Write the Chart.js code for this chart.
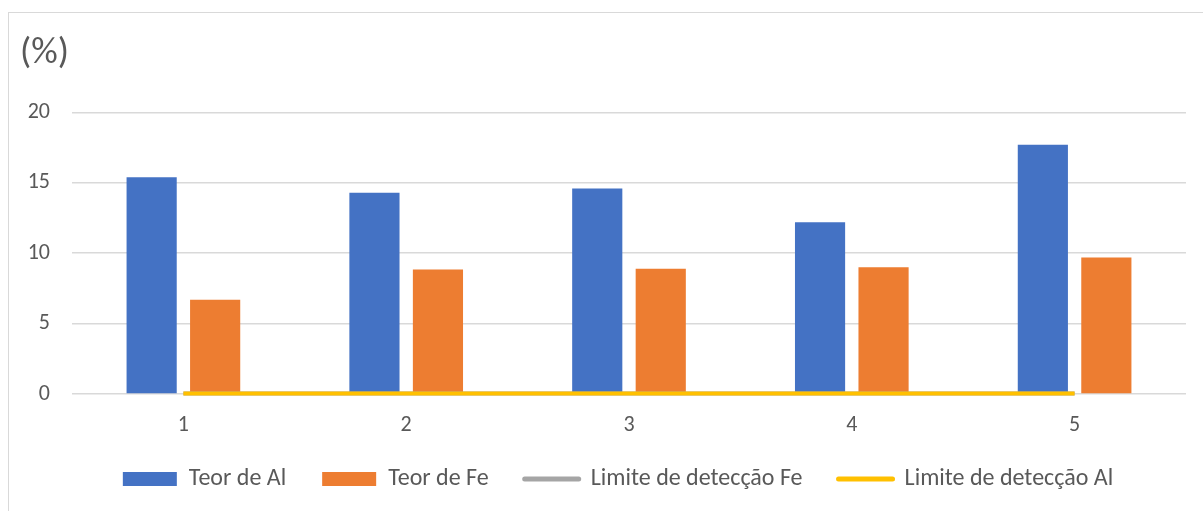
<!DOCTYPE html>
<html>
<head>
<meta charset="utf-8">
<script src="https://cdn.jsdelivr.net/npm/chart.js@4"></script>
<style>
  html, body { margin: 0; padding: 0; background: #fff; }
  #frame { position: absolute; left: 8px; top: 12px; width: 1300px; height: 600px; border: 1px solid #d9d9d9; }
  #wrap { position: absolute; left: 0; top: 0; width: 1203px; height: 511px; }
</style>
</head>
<body>
<div id="frame"></div>
<div id="wrap"><canvas id="myChart"></canvas></div>
<script>
var labels = ['1', '2', '3', '4', '5'];
var teorAl = [15.4, 14.3, 14.6, 12.2, 17.7];
var teorFe = [6.7, 8.85, 8.9, 9.0, 9.7];
var limiteFe = [0.03, 0.03, 0.03, 0.03, 0.03];
var limiteAl = [0.03, 0.03, 0.03, 0.03, 0.03];
var yTicks = [0, 5, 10, 15, 20];

var textColor = '#595959';
var fontFamily = "Carlito, Calibri, 'Open Sans', sans-serif";

var ctx = document.getElementById('myChart').getContext('2d');

// nudge the legend sideways so it sits where the original one does
var legendShift = {
    id: 'legendShift',
    afterLayout: function (chart) {
        chart.legend.left += 15;
        chart.legend.right += 15;
    }
};

let myChart = new Chart(ctx, {
    type: 'bar',
    data: {
        labels: labels,
        datasets: [
            {
                label: 'Teor de Al',
                data: teorAl,
                backgroundColor: '#4472C4',
                categoryPercentage: 0.57,
                barPercentage: 0.79,
                order: 3
            },
            {
                label: 'Teor de Fe',
                data: teorFe,
                backgroundColor: '#ED7D31',
                categoryPercentage: 0.57,
                barPercentage: 0.79,
                order: 4
            },
            {
                type: 'line',
                label: 'Limite de detecção Fe',
                data: limiteFe,
                borderColor: '#A5A5A5',
                backgroundColor: '#A5A5A5',
                borderWidth: 4,
                pointRadius: 0,
                clip: false,
                order: 2
            },
            {
                type: 'line',
                label: 'Limite de detecção Al',
                data: limiteAl,
                borderColor: '#FFC000',
                backgroundColor: '#FFC000',
                borderWidth: 4,
                pointRadius: 0,
                clip: false,
                order: 1
            }
        ]
    },
    plugins: [legendShift],
    options: {
        responsive: true,
        maintainAspectRatio: false,
        animation: false,
        layout: {
            padding: { left: 20, right: 17, top: 0, bottom: 10 }
        },
        elements: {
            line: { tension: 0, borderCapStyle: 'butt' }
        },
        plugins: {
            title: {
                display: true,
                text: '(%)',
                align: 'start',
                color: textColor,
                font: { family: fontFamily, size: 37, weight: 'normal' },
                padding: { top: 32, bottom: 36 }
            },
            legend: {
                position: 'bottom',
                labels: {
                    usePointStyle: true,
                    pointStyleWidth: 54,
                    boxHeight: 14,
                    padding: 36,
                    color: textColor,
                    font: { family: fontFamily, size: 24 },
                    generateLabels: function (chart) {
                        return chart.data.datasets.map(function (ds, i) {
                            var isLine = ds.type === 'line';
                            return {
                                text: ds.label,
                                fillStyle: isLine ? ds.borderColor : ds.backgroundColor,
                                strokeStyle: isLine ? ds.borderColor : ds.backgroundColor,
                                lineWidth: isLine ? 5 : 0,
                                lineCap: 'round',
                                pointStyle: isLine ? 'line' : 'rect',
                                fontColor: textColor,
                                datasetIndex: i
                            };
                        });
                    }
                }
            },
            tooltip: { enabled: false }
        },
        scales: {
            x: {
                afterFit: function (scale) { scale.height = 37; },
                grid: { display: false, drawTicks: false },
                border: { display: false },
                ticks: { color: textColor, font: { family: fontFamily, size: 22 }, padding: 18 }
            },
            y: {
                min: 0,
                max: 20,
                afterFit: function (scale) { scale.width = 52; },
                afterBuildTicks: function (scale) {
                    scale.ticks = yTicks.map(function (v) { return { value: v }; });
                },
                grid: { color: '#d9d9d9', lineWidth: 1.5, drawTicks: false },
                border: { display: false },
                ticks: { color: textColor, font: { family: fontFamily, size: 22 }, padding: 22 }
            }
        }
    }
});
</script>
</body>
</html>
